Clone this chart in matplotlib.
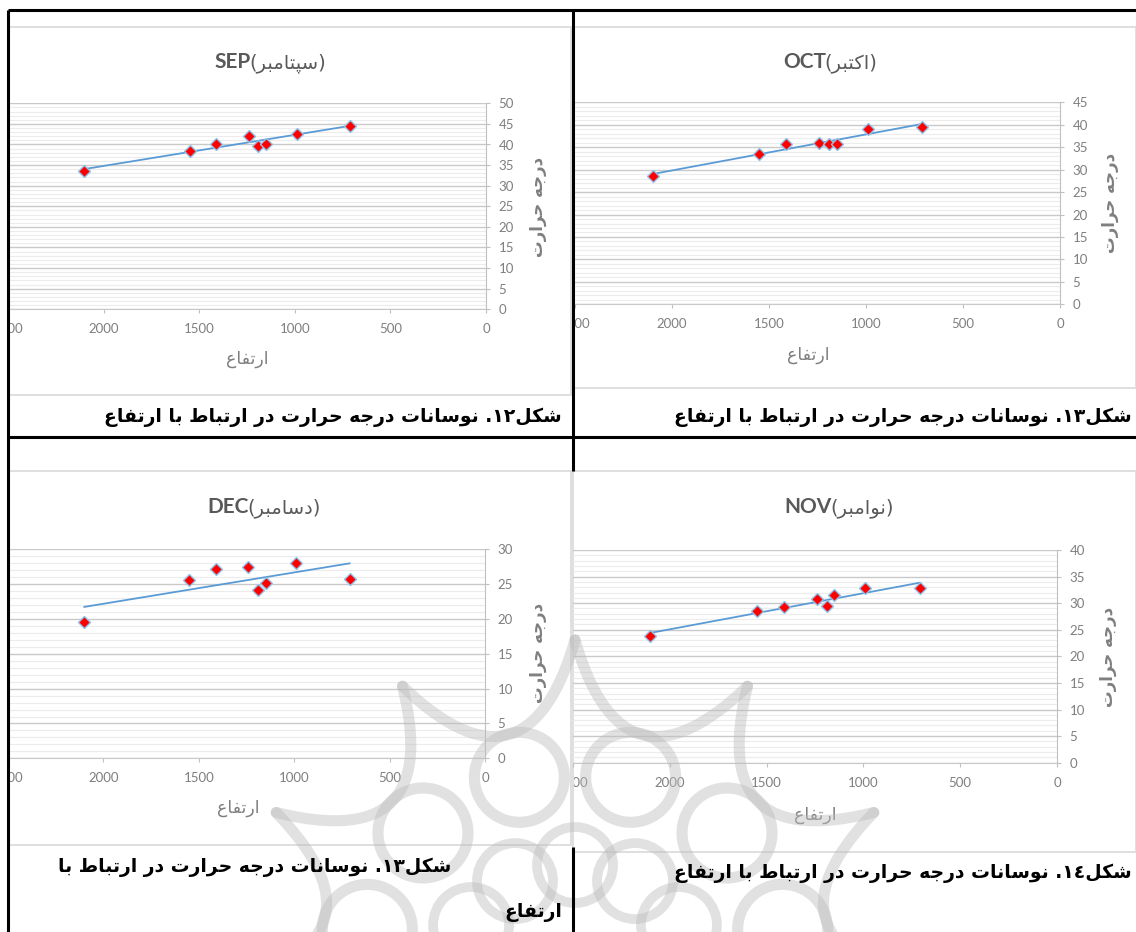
import re

import numpy as np
import matplotlib
matplotlib.use("Agg")
import matplotlib.pyplot as plt  # noqa: E402
from matplotlib.patches import Rectangle, Circle  # noqa: E402
from matplotlib.transforms import Bbox, TransformedBbox  # noqa: E402

W, H = 1136, 932

# --- data ---
ALTITUDE = [2100, 1550, 1410, 1240, 1190, 1150, 990, 710]
SEP_TEMP = [33.6, 38.5, 40.2, 42.1, 39.6, 40.0, 42.5, 44.6]
OCT_TEMP = [28.6, 33.5, 35.7, 36.0, 35.8, 35.8, 39.0, 39.6]
DEC_TEMP = [19.6, 25.6, 27.2, 27.4, 24.2, 25.1, 28.0, 25.8]
NOV_TEMP = [23.9, 28.5, 29.2, 30.8, 29.5, 31.5, 32.9, 32.8]

MONTHS_EN = ["SEP", "OCT", "DEC", "NOV"]
MONTHS_FA = ["سپتامبر", "اکتبر", "دسامبر", "نوامبر"]
Y_MAX = [50, 45, 30, 40]
X_TICKS = [0, 500, 1000, 1500, 2000, 2500]
XLABEL = "ارتفاع"
YLABEL = "درجه حرارت"
CAPTIONS = [
    "شکل۱۲. نوسانات درجه حرارت در ارتباط با ارتفاع",
    "شکل۱۳. نوسانات درجه حرارت در ارتباط با ارتفاع",
    "شکل۱۳. نوسانات درجه حرارت در ارتباط با",
    "شکل۱٤. نوسانات درجه حرارت در ارتباط با ارتفاع",
]

# presentation forms: isolated, final, initial, medial
FORMS = {
    "ا": ("\uFE8D", "\uFE8E", None, None),
    "ب": ("\uFE8F", "\uFE90", "\uFE91", "\uFE92"),
    "پ": ("\uFB56", "\uFB57", "\uFB58", "\uFB59"),
    "ت": ("\uFE95", "\uFE96", "\uFE97", "\uFE98"),
    "ج": ("\uFE9D", "\uFE9E", "\uFE9F", "\uFEA0"),
    "ح": ("\uFEA1", "\uFEA2", "\uFEA3", "\uFEA4"),
    "د": ("\uFEA9", "\uFEAA", None, None),
    "ر": ("\uFEAD", "\uFEAE", None, None),
    "س": ("\uFEB1", "\uFEB2", "\uFEB3", "\uFEB4"),
    "ش": ("\uFEB5", "\uFEB6", "\uFEB7", "\uFEB8"),
    "ط": ("\uFEC1", "\uFEC2", "\uFEC3", "\uFEC4"),
    "ع": ("\uFEC9", "\uFECA", "\uFECB", "\uFECC"),
    "ف": ("\uFED1", "\uFED2", "\uFED3", "\uFED4"),
    "ک": ("\uFB8E", "\uFB8F", "\uFB90", "\uFB91"),
    "ل": ("\uFEDD", "\uFEDE", "\uFEDF", "\uFEE0"),
    "م": ("\uFEE1", "\uFEE2", "\uFEE3", "\uFEE4"),
    "ن": ("\uFEE5", "\uFEE6", "\uFEE7", "\uFEE8"),
    "و": ("\uFEED", "\uFEEE", None, None),
    "ه": ("\uFEE9", "\uFEEA", "\uFEEB", "\uFEEC"),
}


def fa(text):
    """Shape Persian letters and return them in visual (left-to-right) order."""
    out = []
    for i, ch in enumerate(text):
        if ch not in FORMS:
            out.append(ch)
            continue
        iso, fin, ini, med = FORMS[ch]
        prev = text[i - 1] if i > 0 else ""
        nxt = text[i + 1] if i + 1 < len(text) else ""
        join_prev = prev in FORMS and FORMS[prev][2] is not None
        join_next = ini is not None and nxt in FORMS
        if join_prev and join_next:
            out.append(med)
        elif join_prev:
            out.append(fin)
        elif join_next:
            out.append(ini)
        else:
            out.append(iso)
    s = "".join(out)[::-1]
    return re.sub(r"[0-9\u06F0-\u06F9\u0660-\u0669]+", lambda m: m.group(0)[::-1], s)


def fig_rect(left, top, right, bottom):
    return [left / W, 1 - bottom / H, (right - left) / W, (bottom - top) / H]


# chart placement in pixels: axes box, cell box, title split, label anchors
CHARTS = [
    dict(temp=SEP_TEMP, box=(8, 103.3, 486, 309.3), per500=95.6,
         cell=(8, 27, 571, 395), title=(251, 62), xlab=(247, 359), ylab=(538, 207)),
    dict(temp=OCT_TEMP, box=(575, 102.3, 1060, 304.3), per500=100.7,
         cell=(573, 27, 1136, 388), title=(826, 62), xlab=(808, 355), ylab=(1110, 203)),
    dict(temp=DEC_TEMP, box=(8, 549.3, 485, 758.3), per500=98.5,
         cell=(8, 471, 571, 845), title=(249, 507), xlab=(238, 808), ylab=(538, 653)),
    dict(temp=NOV_TEMP, box=(573, 550, 1057, 762.7), per500=96.8,
         cell=(573, 471, 1136, 852), title=(832, 507), xlab=(815, 815), ylab=(1108, 657)),
]

GRID_MAJOR = "#C9C9C9"
GRID_MINOR = "#ECECEC"
AXIS_GREY = "#C0C0C0"
TEXT_GREY = "#7F7F7F"
TREND_BLUE = "#5B9BD5"

fig = plt.figure(figsize=(W / 100, H / 100), dpi=100)
fig.patch.set_facecolor("white")

bg = fig.add_axes([0, 0, 1, 1], zorder=0)
bg.set_xlim(0, W)
bg.set_ylim(H, 0)
bg.axis("off")

for i, ch in enumerate(CHARTS):
    cl, ct, cr, cb = ch["cell"]
    bg.add_patch(Rectangle((cl, ct), cr - cl, cb - ct, fc="white", ec="#D9D9D9", lw=1.2))

    left, top, right, bottom = ch["box"]
    x_left = (right - left) / ch["per500"] * 500
    ax = fig.add_axes(fig_rect(left, top, right, bottom), zorder=2)
    ax.set_facecolor("none")

    temp = np.array(ch["temp"])
    alt = np.array(ALTITUDE)
    slope, icpt = np.polyfit(alt, temp, 1)
    xs = np.array([alt.max(), alt.min()])
    ax.plot(xs, slope * xs + icpt, color=TREND_BLUE, lw=1.3, zorder=3)
    ax.plot(alt, temp, ls="none", marker="D", ms=6.5, mfc="#FF0000",
            mec="#8EC3EA", mew=1.0, zorder=4)

    ax.set_xlim(x_left, 0)
    ax.set_ylim(0, Y_MAX[i])
    ax.set_xticks(X_TICKS)
    ax.set_yticks(np.arange(0, Y_MAX[i] + 1, 5))
    ax.set_yticks(np.arange(0, Y_MAX[i] + 1, 1), minor=True)
    ax.yaxis.tick_right()
    ax.grid(axis="y", which="major", color=GRID_MAJOR, lw=1.0)
    ax.grid(axis="y", which="minor", color=GRID_MINOR, lw=0.8)
    ax.set_axisbelow(True)
    ax.tick_params(axis="both", which="major", length=3, color=AXIS_GREY,
                   labelcolor=TEXT_GREY, labelsize=9.5)
    ax.tick_params(axis="y", which="minor", length=0)
    ax.tick_params(axis="y", pad=6)
    ax.tick_params(axis="x", pad=7)
    for lab in ax.get_xticklabels() + ax.get_yticklabels():
        lab.set_family("Lato")
    for side in ("top", "left"):
        ax.spines[side].set_visible(False)
    ax.spines["right"].set_color(AXIS_GREY)
    ax.spines["bottom"].set_color(GRID_MAJOR)

    # tick labels cut at the cell edge, like the cropped chart pictures
    clip = TransformedBbox(Bbox([[(cl + 1) / W, 0], [cr / W, 1]]), fig.transFigure)
    for lab in ax.get_xticklabels():
        lab.set_clip_on(True)
        lab.set_clip_box(clip)

    tx, ty = ch["title"]
    bg.text(tx, ty, MONTHS_EN[i], ha="right", va="center", fontsize=15,
            fontweight="bold", color="#595959", family="Lato")
    bg.text(tx - 2, ty + 1, "(" + fa(MONTHS_FA[i]) + ")", ha="left", va="center",
            fontsize=14, color="#595959", family="DejaVu Sans")
    bg.text(*ch["xlab"], fa(XLABEL), ha="center", va="center", fontsize=12.5,
            color=TEXT_GREY, family="DejaVu Sans")
    bg.text(*ch["ylab"], fa(YLABEL), ha="center", va="center", rotation=90,
            fontsize=12, fontweight="bold", color=TEXT_GREY, family="DejaVu Sans")

# --- faint rosette watermark of the journal page ---
fg = fig.add_axes([0, 0, 1, 1], zorder=3)
fg.set_xlim(0, W)
fg.set_ylim(H, 0)
fg.axis("off")
fg.patch.set_alpha(0)
WM = "#BDBDBD"
WA = 0.45
cx, cy, n = 575, 985, 12
angles = -np.pi / 2 + np.arange(n) * 2 * np.pi / n
t = np.linspace(0, 1, 40)[:, None]
for k in range(n):
    a0, a1 = angles[k], angles[k] + 2 * np.pi / n
    am = (a0 + a1) / 2
    A = np.array([cx + 345 * np.cos(a0), cy + 345 * np.sin(a0)])
    B = np.array([cx + 345 * np.cos(a1), cy + 345 * np.sin(a1)])
    C = np.array([cx + 185 * np.cos(am), cy + 185 * np.sin(am)])
    pts = (1 - t) ** 2 * A + 2 * t * (1 - t) * C + t ** 2 * B
    fg.plot(pts[:, 0], pts[:, 1], color=WM, lw=8, alpha=WA, solid_capstyle="round")
    fg.add_patch(Circle((cx + 215 * np.cos(am), cy + 215 * np.sin(am)), 45,
                        fill=False, ec=WM, lw=8, alpha=WA))
    fg.add_patch(Circle((cx + 120 * np.cos(a0), cy + 120 * np.sin(a0)), 38,
                        fill=False, ec=WM, lw=7, alpha=WA))

# --- table rules and captions ---
LINE = dict(color="black", lw=2.2, solid_capstyle="butt")
fg.plot([8, W], [10, 10], **LINE)
fg.plot([8, W], [437, 437], **LINE)
fg.plot([8, 8], [10, H], **LINE)
fg.plot([573, 573], [10, 471], **LINE)
fg.plot([573, 573], [847, H], **LINE)

CAP = dict(ha="right", va="center", fontsize=13.5, fontweight="bold",
           color="black", family="DejaVu Sans")
fg.text(562, 417, fa(CAPTIONS[0]), **CAP)
fg.text(1132, 417, fa(CAPTIONS[1]), **CAP)
fg.text(451, 867, fa(CAPTIONS[2]), **CAP)
fg.text(562, 912, fa(XLABEL), **CAP)
fg.text(1132, 873, fa(CAPTIONS[3]), **CAP)

fig.savefig("out.png", dpi=100, facecolor="white")
